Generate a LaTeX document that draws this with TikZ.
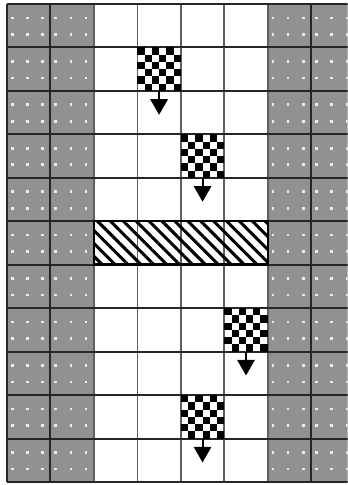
\documentclass[tikz,border=0pt]{standalone}
\usepackage{tikz}
\usetikzlibrary{arrows.meta, patterns.meta}
\definecolor{wallgray}{RGB}{145,145,145}
\definecolor{lanegrid}{RGB}{95,95,95}
\tikzset{
    wall/.style={
        fill=wallgray,
        draw=none
    },
    walldot/.style={
        fill=white!85!gray,
        draw=none
    },
    rowline/.style={
        draw=black!85,
        line width=1.3pt
    },
    laneline/.style={
        draw=lanegrid,
        line width=1.1pt
    },
    carblock/.style={
        rectangle,
        minimum size=1cm,
        inner sep=0pt,
        draw=none
    },
    barrier/.style={
        rectangle,
        minimum width=4cm,
        minimum height=1cm,
        inner sep=0pt,
        draw=black,
        line width=1.6pt,
        pattern={Lines[angle=-45, distance=0.21cm, line width=2pt]},
        pattern color=black
    },
    move/.style={
        -{Triangle[width=0.4cm, length=0.36cm]},
        line width=1.3pt
    }
}

\begin{document}
\begin{tikzpicture}
    \useasboundingbox (-0.161,-0.069) rectangle (7.839,11.092);
    \clip (-0.161,-0.069) rectangle (7.839,11.092);
    % side walls
    \foreach \x in {0,6} {
        \fill[wall] (\x,0) rectangle (\x+2,11);
    }
    \foreach \x in {0,1,6,7} {
        \foreach \y in {0,...,10} {
            \foreach \dx in {0.12,0.47,0.82} {
                \foreach \dy in {0.30,0.68} {
                    \fill[walldot] (\x+\dx-0.03,\y+\dy-0.03) rectangle ++(0.06,0.06);
                }
            }
        }
    }
    % grid
    \foreach \x in {2,...,6} {
        \draw[laneline] (\x,0) -- (\x,11);
    }
    \foreach \x in {0,1,7,8} {
        \draw[rowline] (\x,0) -- (\x,11);
    }
    \foreach \y in {0,...,11} {
        \draw[rowline] (0,\y) -- (8,\y);
    }
    % cars
    \foreach \c/\r [count=\k] in {3/1, 4/3, 5/7, 4/9} {
        \node[carblock] (car\k) at (\c+0.5,10.5-\r) {};
        \foreach \i in {0,...,5} {
            \foreach \j in {0,2,4} {
                \pgfmathtruncatemacro{\col}{\j+mod(\i,2)}
                \fill[black] (\c+\col/6,11-\r-\i/6) rectangle ++(1/6,-1/6);
            }
        }
        \coordinate (tip\k) at (\c+0.5,10-\r-0.55);
        \draw[move] (car\k.south) -- (tip\k);
    }
    % barrier
    \node[barrier] (wall) at (4,5.5) {};
\end{tikzpicture}
\end{document}
